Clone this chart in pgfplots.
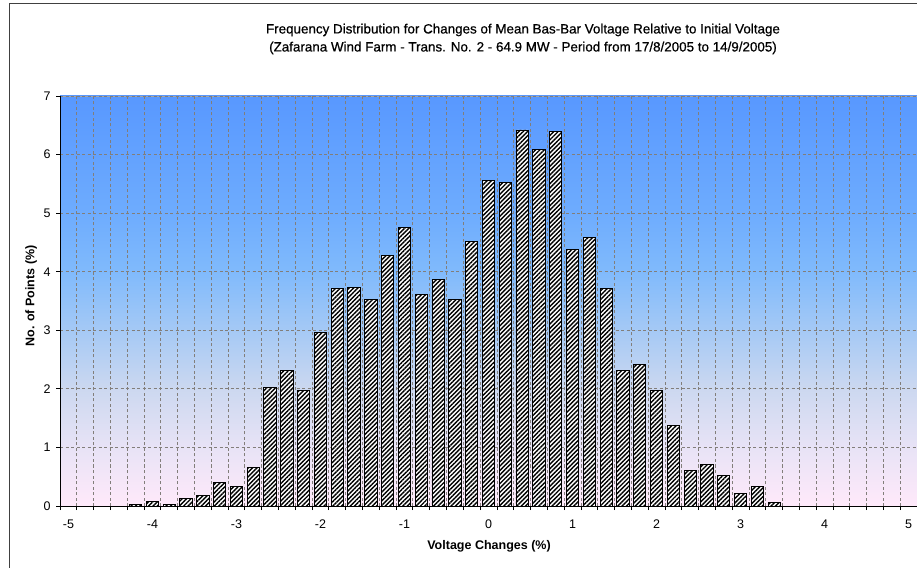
\documentclass[border=0pt]{standalone}
\usepackage{fontspec}
\setmainfont{Liberation Sans}
\newfontfamily\titlefont[FakeBold=0.6]{Liberation Sans}
\usepackage{pgfplots}
\pgfplotsset{compat=1.18}
\usetikzlibrary{patterns.meta}
\definecolor{c0}{RGB}{255,233,250}
\definecolor{c1}{RGB}{232,227,246}
\definecolor{c2}{RGB}{204,216,240}
\definecolor{c3}{RGB}{165,201,245}
\definecolor{c4}{RGB}{128,186,252}
\definecolor{c5}{RGB}{110,172,254}
\definecolor{c7}{RGB}{88,152,255}
\definecolor{gridc}{RGB}{130,126,122}
\pgfdeclareverticalshading{plotbg}{100bp}{color(0bp)=(c0); color(25bp)=(c0); color(32.1bp)=(c1); color(39.3bp)=(c2); color(46.4bp)=(c3); color(53.6bp)=(c4); color(60.7bp)=(c5); color(75bp)=(c7); color(100bp)=(c7)}
\pgfplotstableread{
x y
-4.2 0.03
-4.0 0.07
-3.8 0.03
-3.6 0.13
-3.4 0.18
-3.2 0.40
-3.0 0.34
-2.8 0.65
-2.6 2.03
-2.4 2.31
-2.2 1.97
-2.0 2.96
-1.8 3.71
-1.6 3.73
-1.4 3.52
-1.2 4.27
-1.0 4.75
-0.8 3.61
-0.6 3.86
-0.4 3.52
-0.2 4.51
0.0 5.55
0.2 5.53
0.4 6.42
0.6 6.09
0.8 6.40
1.0 4.38
1.2 4.58
1.4 3.71
1.6 2.31
1.8 2.41
2.0 1.97
2.2 1.38
2.4 0.61
2.6 0.71
2.8 0.52
3.0 0.21
3.2 0.34
3.4 0.06
}\freqdata
\begin{document}
\begin{tikzpicture}[x=1pt,y=1pt]
\path[use as bounding box, fill=white] (0,0) rectangle (917,567);
\draw[black!75, line width=1pt] (9,-2) -- (9,563) -- (920,563);
\node[font=\fontsize{13.4}{15}\titlefont] at (523,537) {Frequency Distribution for Changes of Mean Bas-Bar Voltage Relative to Initial Voltage};
\node[font=\fontsize{13.4}{15}\titlefont] at (523,519) {(Zafarana Wind Farm - Trans. No. 2 - 64.9 MW - Period from 17/8/2005 to 14/9/2005)};
\begin{axis}[
  at={(60pt,61pt)}, anchor=south west, scale only axis,
  width=857pt, height=410pt,
  xmin=-5.1, xmax=5.1, ymin=0, ymax=7,
  axis background/.style={shading=plotbg, draw=gray!70, line width=0.8pt},
  axis x line*=bottom, axis y line*=left,
  axis line style={black, line width=1pt, -},
  tick align=outside, major tick length=4pt,
  tick style={black, line width=0.8pt},
  /pgf/number format/assume math mode=true,
  ticklabel style={font=\fontsize{12.5}{14}\selectfont},
  xtick={-5.1,-4.9,...,5.2},
  xticklabels={},
  extra x ticks={-5,-4,-3,-2,-1,0,1,2,3,4,5},
  extra x tick labels={-5,-4,-3,-2,-1,0,1,2,3,4,5},
  extra x tick style={major tick length=0pt, grid=none, xticklabel style={yshift=-10pt}},
  ytick={0,1,2,3,4,5,6,7},
  yticklabel style={xshift=-2pt},
  xmajorgrids, ymajorgrids,
  grid style={gridc, dash pattern=on 3pt off 2.5pt, line width=0.8pt},
  xlabel={\textbf{Voltage Changes (\%)}},
  ylabel={\textbf{No. of Points (\%)}},
  label style={font=\fontsize{12.5}{14}\selectfont},
  xlabel style={at={(axis description cs:0.5006,-0.0976)}, anchor=center},
  ylabel style={at={(axis description cs:-0.0338,0.512)}, anchor=center, rotate=0},
  ybar, bar width=0.146,
]
\addplot[ybar, draw=black, line width=0.9pt, preaction={fill=white},
  pattern={Lines[angle=45,distance=3.1pt,line width=1.4pt]}, pattern color=black]
  table[x=x,y=y] {\freqdata};
\end{axis}
\end{tikzpicture}
\end{document}
